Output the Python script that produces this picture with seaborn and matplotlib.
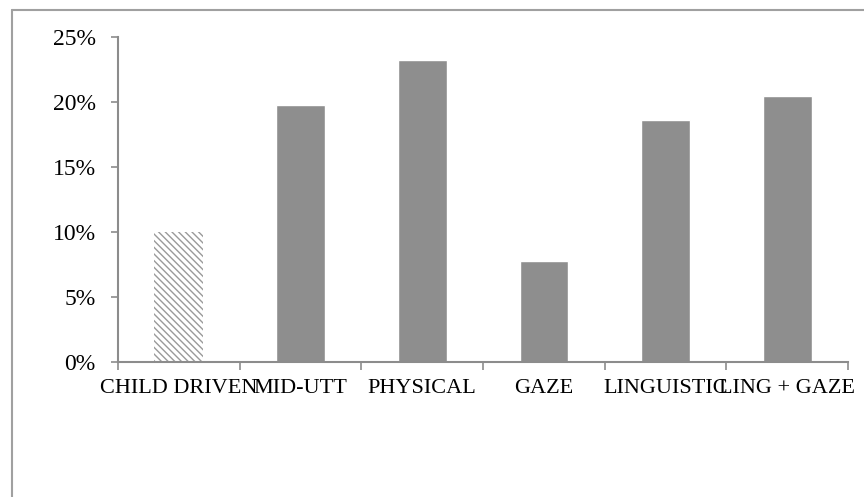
import matplotlib
matplotlib.use("Agg")
import matplotlib.pyplot as plt
import seaborn as sns
import pandas as pd
from matplotlib.lines import Line2D
from matplotlib.ticker import FuncFormatter

categories = ["CHILD DRIVEN", "MID-UTT", "PHYSICAL", "GAZE", "LINGUISTIC", "LING + GAZE"]
shares = [10.0, 19.8, 23.2, 7.8, 18.65, 20.45]

data = pd.DataFrame({"category": categories, "share": shares})

sns.set_theme(style="white")
plt.rcParams["font.family"] = ["Liberation Serif", "DejaVu Serif"]
plt.rcParams["hatch.linewidth"] = 1.0

fig = plt.figure(figsize=(8.64, 4.97), dpi=100)
ax = fig.add_axes([118 / 864, 1 - 362 / 497, 730 / 864, 325 / 497])

sns.barplot(data=data, x="category", y="share", color="#8e8e8e",
            saturation=1, width=0.4, ax=ax)

# first bar is hatched
first = ax.patches[0]
first.set_facecolor("white")
first.set_edgecolor("#9a9a9a")
first.set_linewidth(0)
first.set_hatch("\\\\\\\\\\")

ax.set_xlim(-0.5, len(categories) - 0.5)
ax.set_ylim(0, 25)
ax.set_yticks([0, 5, 10, 15, 20, 25])
ax.yaxis.set_major_formatter(FuncFormatter(lambda v, p: f"{v:.0f}%"))
ax.set_xlabel("")
ax.set_ylabel("")

for side in ["top", "right"]:
    ax.spines[side].set_visible(False)
for side in ["left", "bottom"]:
    ax.spines[side].set_color("#8c8c8c")
    ax.spines[side].set_linewidth(1.5)

# x ticks at category boundaries, labels centred
ax.set_xticks([i - 0.5 for i in range(len(categories) + 1)], minor=False)
ax.set_xticklabels([])
ax.set_xticks(range(len(categories)), minor=True)
ax.set_xticklabels(categories, minor=True)
ax.tick_params(axis="x", which="major", bottom=True, direction="out",
               length=6, width=1.2, color="#8c8c8c")
ax.tick_params(axis="x", which="minor", bottom=False, labelsize=16,
               pad=8, labelcolor="black")
ax.tick_params(axis="y", left=True, direction="out", length=5, width=1.2,
               color="#8c8c8c", labelsize=17, pad=11, labelcolor="black")

# outer chart border (left and top)
fig.add_artist(Line2D([12 / 864, 12 / 864], [0, 1 - 10 / 497],
                      transform=fig.transFigure, color="#a0a0a0", lw=1.5))
fig.add_artist(Line2D([12 / 864, 1], [1 - 10 / 497, 1 - 10 / 497],
                      transform=fig.transFigure, color="#a0a0a0", lw=1.5))

fig.savefig("out.png", dpi=100)
